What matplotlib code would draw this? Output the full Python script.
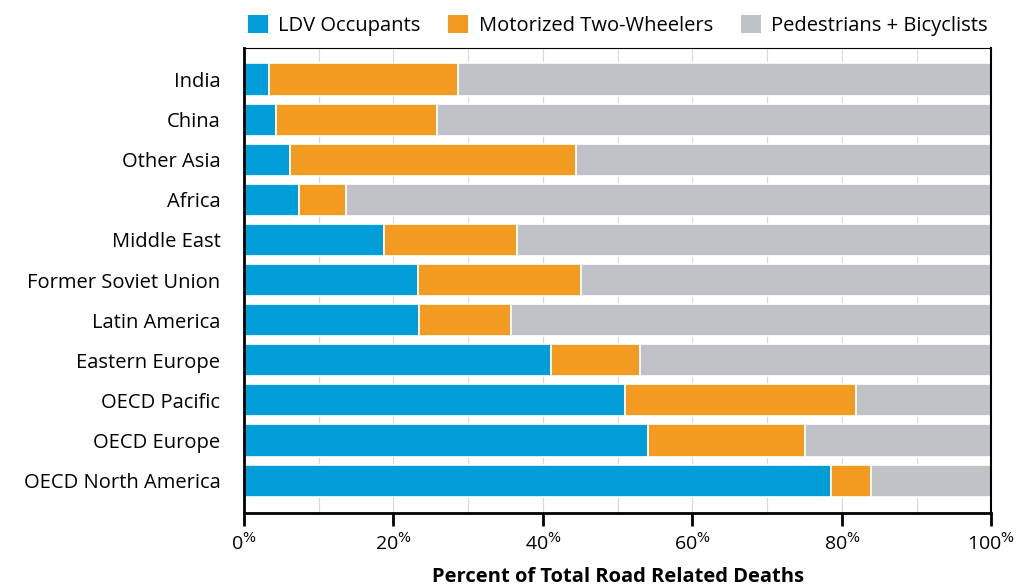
import numpy as np
import matplotlib.pyplot as plt
from matplotlib.patches import Patch

# 数据
regions = ['India', 'China', 'Other Asia', 'Africa', 'Middle East',
           'Former Soviet Union', 'Latin America', 'Eastern Europe',
           'OECD Pacific', 'OECD Europe', 'OECD North America']
ldv = [3.3, 4.3, 6.2, 7.4, 18.7, 23.3, 23.4, 41.1, 51.0, 54.1, 78.6]
two_wheelers = [25.3, 21.5, 38.2, 6.3, 17.8, 21.8, 12.3, 11.9, 30.9, 20.9, 5.3]
series_names = ['LDV Occupants', 'Motorized Two-Wheelers', 'Pedestrians + Bicyclists']
colors = ['#009dd8', '#f39a21', '#bfc2c7']

plt.rcParams['font.family'] = ['Open Sans', 'DejaVu Sans']

ldv = np.array(ldv)
two_wheelers = np.array(two_wheelers)
ped = 100 - ldv - two_wheelers

fig = plt.figure(figsize=(10.21, 5.88), dpi=100)
ax = fig.add_axes([0.239, 0.128, 0.732, 0.79])

y = np.arange(len(regions))
ax.barh(y, ldv, height=0.8, color=colors[0], edgecolor='white', linewidth=1.2, zorder=2)
ax.barh(y, two_wheelers, left=ldv, height=0.8, color=colors[1], edgecolor='white', linewidth=1.2, zorder=2)
ax.barh(y, ped, left=ldv + two_wheelers, height=0.8, color=colors[2], edgecolor='white', linewidth=1.2, zorder=2)

ax.set_xlim(0, 100)
ax.set_ylim(10.8, -0.78)
ax.set_yticks(y)
ax.set_yticklabels(regions, fontsize=14.5)
ax.tick_params(axis='y', length=0, pad=17)

# x轴：每20%一个主刻度，10%一条淡网格
ax.set_xticks(np.arange(0, 101, 20))
ax.set_xticklabels([str(v) + r'$^{\%}$' for v in range(0, 101, 20)], fontsize=14)
ax.set_xticks(np.arange(0, 101, 10), minor=True)
ax.tick_params(axis='x', which='major', length=9, width=2, direction='out', pad=5)
ax.tick_params(axis='x', which='minor', length=0)
ax.grid(axis='x', which='both', color='#d8d8d8', linewidth=0.8, zorder=0)

ax.spines['bottom'].set_linewidth(2)
ax.spines['left'].set_linewidth(2)
ax.spines['right'].set_linewidth(1.5)
ax.spines['top'].set_linewidth(0.8)

ax.set_xlabel('Percent of Total Road Related Deaths', fontsize=14.5, fontweight='bold', labelpad=9)

handles = [Patch(facecolor=c, label=n) for c, n in zip(colors, series_names)]
ax.legend(handles=handles, loc='lower center', bbox_to_anchor=(0.5, 1.0), ncol=3,
          frameon=False, fontsize=14.5, handlelength=1.0, handleheight=1.0,
          columnspacing=1.4, handletextpad=0.5, borderaxespad=0.2)

fig.savefig('out.png', dpi=100)
